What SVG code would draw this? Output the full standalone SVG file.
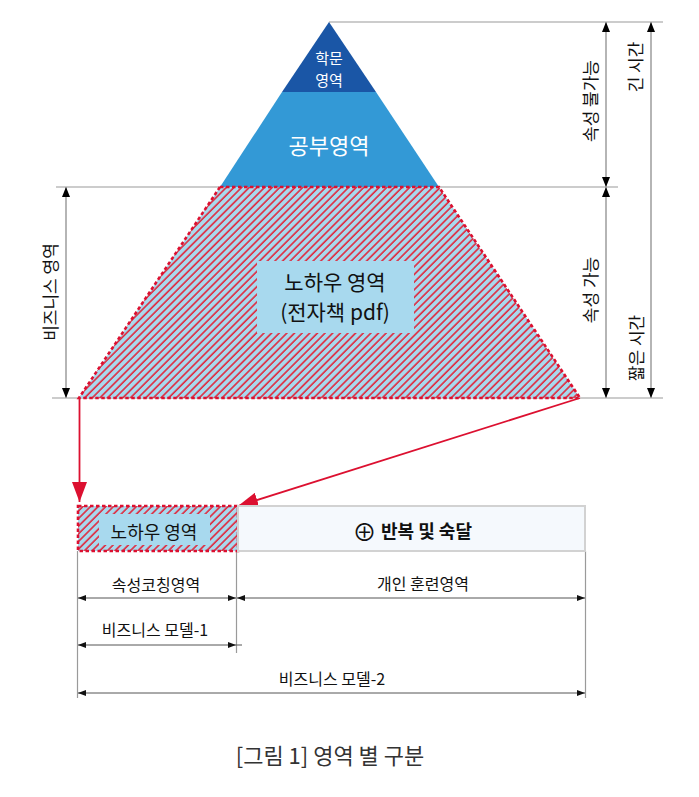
<svg xmlns="http://www.w3.org/2000/svg" width="699" height="797" viewBox="0 0 699 797">
<style>
text{font-family:"Noto Sans CJK KR","Noto Sans",sans-serif;fill:#111}
.w{fill:#ffffff}
.ext{stroke:#9a9a9a;stroke-width:1.2;fill:none}
.vdim{stroke:#b5b5b5;stroke-width:2;fill:none}
.hdim{stroke:#555;stroke-width:1;fill:none}
.red{stroke:#dc1030;stroke-width:1.8;fill:none}
.dash{stroke:#dc1030;stroke-width:2.6;stroke-dasharray:3.5 2.5;fill:url(#hatch)}
</style>
<defs>
<pattern id="hatch" patternUnits="userSpaceOnUse" width="5.4" height="5.4" patternTransform="rotate(45)">
<rect width="5.4" height="5.4" fill="#a8d9ee"/>
<line x1="1" y1="0" x2="1" y2="5.4" stroke="#e0283c" stroke-width="1.6"/>
</pattern>
<marker id="ab" markerUnits="userSpaceOnUse" markerWidth="10" markerHeight="8" refX="10" refY="4" orient="auto-start-reverse"><path d="M0,0L10,4L0,8z" fill="#000"/></marker>
<marker id="as" markerUnits="userSpaceOnUse" markerWidth="8" markerHeight="6" refX="8" refY="3" orient="auto-start-reverse"><path d="M0,0L8,3L0,6z" fill="#111"/></marker>
<marker id="ar" markerUnits="userSpaceOnUse" markerWidth="20" markerHeight="15" refX="20" refY="7.5" orient="auto"><path d="M0,0L20,7.5L0,15z" fill="#dc1030"/></marker>
</defs>

<g id="connectors">
<line class="ext" x1="329" y1="22" x2="663" y2="22"/>
<line class="ext" x1="56" y1="187" x2="618" y2="187"/>
<line class="ext" x1="52" y1="398" x2="663" y2="398"/>
<line class="vdim" x1="606" y1="22" x2="606" y2="187" marker-start="url(#ab)" marker-end="url(#ab)"/>
<line class="vdim" x1="606" y1="187" x2="606" y2="398" marker-start="url(#ab)" marker-end="url(#ab)"/>
<line class="vdim" x1="651" y1="22" x2="651" y2="398" marker-start="url(#ab)" marker-end="url(#ab)"/>
<line class="vdim" x1="66" y1="187" x2="66" y2="398" marker-start="url(#ab)" marker-end="url(#ab)"/>
<line class="red" x1="79.5" y1="398" x2="79.5" y2="502" marker-end="url(#ar)"/>
<line class="red" x1="580" y1="398" x2="238" y2="506" marker-end="url(#ar)"/>
<line class="ext" x1="77.5" y1="551" x2="77.5" y2="698"/>
<line class="ext" x1="236.5" y1="551" x2="236.5" y2="653"/>
<line class="ext" x1="585.5" y1="551" x2="585.5" y2="698"/>
<line class="hdim" x1="78" y1="598" x2="236" y2="598" marker-start="url(#as)" marker-end="url(#as)"/>
<line class="hdim" x1="237" y1="598" x2="585" y2="598" marker-start="url(#as)" marker-end="url(#as)"/>
<line class="hdim" x1="78" y1="645" x2="236" y2="645" marker-start="url(#as)" marker-end="url(#as)"/>
<line class="hdim" x1="236" y1="645" x2="242" y2="645"/>
<line class="hdim" x1="78" y1="693" x2="585" y2="693" marker-start="url(#as)" marker-end="url(#as)"/>
</g>

<g id="pyramid-top">
<polygon points="329,22 376,92 282,92" fill="#1a56a6"/>
<text class="w" x="329" y="64" font-size="15" text-anchor="middle">학문</text>
<text class="w" x="329" y="86" font-size="15" text-anchor="middle">영역</text>
</g>

<g id="pyramid-middle">
<polygon points="282,92 376,92 439,187 220,187" fill="#3399d6"/>
<text class="w" x="329" y="154" font-size="22" text-anchor="middle">공부영역</text>
</g>

<g id="pyramid-bottom">
<polygon class="dash" points="220,187 439,187 580,398 79,398"/>
<rect x="257" y="261" width="157" height="72" fill="#a8d9ee"/>
<text x="335" y="290" font-size="21" text-anchor="middle">노하우 영역</text>
<text x="335" y="320" font-size="21" text-anchor="middle">(전자책 pdf)</text>
</g>

<g id="dim-labels">
<text transform="translate(597,101) rotate(-90)" font-size="17" text-anchor="middle">속성 불가능</text>
<text transform="translate(642,67) rotate(-90)" font-size="17" text-anchor="middle">긴 시간</text>
<text transform="translate(597,290) rotate(-90)" font-size="17" text-anchor="middle">속성 가능</text>
<text transform="translate(643,348) rotate(-90)" font-size="17" text-anchor="middle">짧은 시간</text>
<text transform="translate(57,292) rotate(-90)" font-size="17" text-anchor="middle">비즈니스 영역</text>
</g>

<g id="box-knowhow">
<rect class="dash" x="78" y="506" width="160" height="45"/>
<rect x="99" y="514" width="111" height="31" fill="#a8d9ee"/>
<text x="154" y="539" font-size="18" text-anchor="middle">노하우 영역</text>
</g>

<g id="box-repeat">
<rect x="238" y="506" width="347" height="45" fill="#f5f9fd" stroke="#d2d2d2" stroke-width="2"/>
<text x="364.5" y="541" font-size="24" text-anchor="middle">⊕</text>
<text x="381" y="538" font-size="18" font-weight="bold">반복 및 숙달</text>
</g>

<g id="bottom-labels">
<text x="156" y="591" font-size="16" text-anchor="middle">속성코칭영역</text>
<text x="423" y="590" font-size="16" text-anchor="middle">개인 훈련영역</text>
<text x="155" y="636" font-size="16" text-anchor="middle">비즈니스 모델-1</text>
<text x="332" y="685" font-size="16" text-anchor="middle">비즈니스 모델-2</text>
</g>

<g id="caption">
<text x="330" y="764" font-size="22" text-anchor="middle" style="fill:#333">[그림 1] 영역 별 구분</text>
</g>
</svg>
